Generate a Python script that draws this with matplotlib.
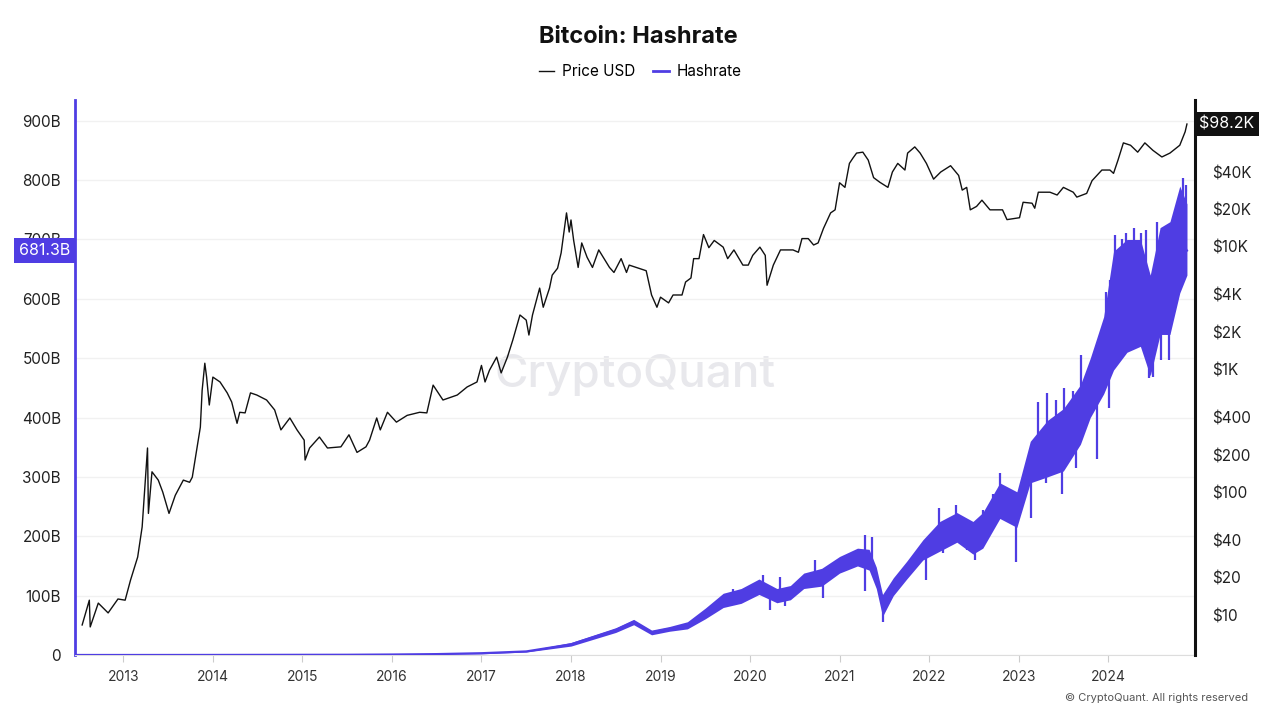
import numpy as np
import matplotlib.pyplot as plt
from matplotlib.ticker import FixedLocator, NullLocator
import matplotlib.transforms as mtransforms

plt.rcParams['font.family'] = ['Inter', 'DejaVu Sans']

# Price (USD), decimal year
price_year = [2012.54, 2012.62, 2012.63, 2012.72, 2012.83, 2012.94, 2013.02, 2013.08, 2013.16, 2013.21,
              2013.27, 2013.28, 2013.32, 2013.39, 2013.44, 2013.51, 2013.58, 2013.67, 2013.74, 2013.77,
              2013.81, 2013.86, 2013.88, 2013.91, 2013.93, 2013.96, 2014.0, 2014.08, 2014.16, 2014.21,
              2014.27, 2014.30, 2014.36, 2014.42, 2014.49, 2014.60, 2014.69, 2014.76, 2014.86, 2014.94,
              2015.02, 2015.03, 2015.08, 2015.19, 2015.28, 2015.43, 2015.52, 2015.61, 2015.71, 2015.75,
              2015.83, 2015.87, 2015.95, 2016.05, 2016.17, 2016.31, 2016.39, 2016.46, 2016.57, 2016.73,
              2016.84, 2016.95, 2017.0, 2017.04, 2017.09, 2017.17, 2017.22, 2017.29, 2017.35, 2017.43,
              2017.50, 2017.53, 2017.57, 2017.65, 2017.69, 2017.76, 2017.79, 2017.85, 2017.89, 2017.95,
              2017.98, 2018.0, 2018.03, 2018.08, 2018.12, 2018.18, 2018.24, 2018.31, 2018.43, 2018.48,
              2018.56, 2018.62, 2018.65, 2018.84, 2018.90, 2018.96, 2019.0, 2019.09, 2019.14, 2019.24,
              2019.28, 2019.34, 2019.37, 2019.43, 2019.48, 2019.54, 2019.60, 2019.70, 2019.75, 2019.82,
              2019.92, 2019.98, 2020.03, 2020.11, 2020.17, 2020.19, 2020.26, 2020.34, 2020.48, 2020.54,
              2020.58, 2020.65, 2020.71, 2020.76, 2020.82, 2020.90, 2020.95, 2021.0, 2021.06, 2021.11,
              2021.15, 2021.19, 2021.26, 2021.32, 2021.38, 2021.45, 2021.54, 2021.59, 2021.65, 2021.73,
              2021.76, 2021.84, 2021.90, 2021.97, 2022.05, 2022.13, 2022.24, 2022.33, 2022.37, 2022.42,
              2022.46, 2022.53, 2022.59, 2022.68, 2022.82, 2022.87, 2023.01, 2023.05, 2023.15, 2023.18,
              2023.22, 2023.35, 2023.43, 2023.50, 2023.61, 2023.65, 2023.76, 2023.82, 2023.93, 2024.02,
              2024.06, 2024.11, 2024.17, 2024.25, 2024.33, 2024.41, 2024.50, 2024.60, 2024.69, 2024.80,
              2024.86, 2024.88]
price_usd = [8.3, 13.2, 8.0, 12.5, 10.4, 13.5, 13.2, 19.2, 29.6, 52,
             228, 67, 146, 125, 100, 67, 94, 125, 120, 132,
             200, 337, 670, 1115, 860, 510, 860, 785, 640, 540,
             362, 445, 440, 640, 615, 560, 465, 320, 400, 320,
             264, 182, 228, 280, 228, 233, 292, 210, 233, 264,
             400, 320, 445, 370, 420, 445, 440, 740, 560, 615,
             715, 785, 1070, 785, 980, 1250, 930, 1250, 1720, 2750,
             2500, 1890, 2750, 4550, 3180, 4550, 5800, 6600, 8800, 18600,
             13000, 16300, 11100, 6700, 10600, 8100, 6700, 9300, 6700, 6100,
             7900, 6100, 7000, 6300, 4000, 3180, 3840, 3450, 4000, 4000,
             5100, 5500, 7900, 7900, 12400, 9700, 11100, 9800, 7900, 9300,
             7000, 7000, 8400, 9800, 8400, 4800, 7000, 9300, 9300, 8900,
             11500, 11500, 10200, 10600, 13900, 18600, 19700, 32700, 30000, 47000,
             52000, 57000, 58000, 50000, 36000, 33000, 30000, 40000, 47000, 41500,
             57000, 64000, 57000, 47000, 35000, 40000, 45000, 37500, 28500, 30000,
             19700, 21000, 23600, 19700, 19700, 16400, 17000, 22700, 22300, 20300,
             27400, 27400, 26000, 30000, 27400, 25000, 26800, 34000, 41500, 41500,
             39000, 50000, 69000, 66000, 58000, 69000, 60000, 53000, 57000, 66000,
             85000, 98200]

# Hashrate (B): dense core of the daily series
hash_year = [2012.46, 2013.0, 2013.5, 2014.0, 2014.5, 2015.0, 2015.5, 2016.0, 2016.5, 2017.0,
             2017.5, 2018.0, 2018.5, 2018.7, 2018.9, 2019.1, 2019.3, 2019.5, 2019.7, 2019.9,
             2020.1, 2020.3, 2020.45, 2020.6, 2020.8, 2021.0, 2021.2, 2021.33, 2021.41, 2021.48,
             2021.6, 2021.75, 2021.93, 2022.12, 2022.31, 2022.49, 2022.6, 2022.79, 2022.98, 2023.13,
             2023.32, 2023.5, 2023.69, 2023.8, 2023.95, 2024.06, 2024.21, 2024.36, 2024.47, 2024.58,
             2024.69, 2024.8, 2024.88]
hash_mid = [0.01, 0.02, 0.05, 0.1, 0.2, 0.3, 0.4, 0.8, 1.5, 3,
            6, 18, 42, 56, 38, 44, 50, 70, 92, 100,
            115, 100, 105, 125, 132, 152, 165, 160, 130, 85,
            115, 143, 177, 199, 216, 199, 206, 266, 249, 329,
            351, 374, 418, 469, 509, 576, 603, 598, 543, 620,
            649, 700, 681.3]
hash_lo = [0.01, 0.02, 0.05, 0.1, 0.2, 0.3, 0.4, 0.7, 1.3, 2,
           5, 15, 38, 51, 34, 40, 44, 61, 80, 87,
           102, 88, 93, 112, 116, 138, 150, 143, 112, 65,
           100, 128, 160, 175, 190, 170, 180, 230, 215, 290,
           300, 310, 355, 400, 440, 480, 510, 520, 470, 540,
           540, 610, 640]
hash_hi = [0.01, 0.02, 0.05, 0.1, 0.2, 0.3, 0.4, 0.9, 1.7, 4,
           7, 21, 46, 60, 42, 48, 56, 79, 104, 112,
           128, 112, 117, 138, 146, 166, 180, 178, 148, 102,
           130, 158, 194, 225, 240, 225, 240, 290, 275, 360,
           395, 415, 455, 500, 570, 680, 700, 700, 640, 720,
           730, 790, 760]

# Hashrate spikes that stick out of the core (B)
spike_up_year = [2019.81, 2020.15, 2020.33, 2020.72, 2021.28, 2021.36, 2021.99, 2022.11, 2022.30, 2022.60,
                 2022.71, 2022.79, 2023.22, 2023.32, 2023.42, 2023.51, 2023.61, 2023.70, 2023.84, 2023.98,
                 2024.02, 2024.08, 2024.15, 2024.20, 2024.29, 2024.37, 2024.42, 2024.55, 2024.65, 2024.78,
                 2024.84, 2024.87]
spike_up_val = [112, 135, 132, 160, 202, 199, 180, 247, 253, 244,
                272, 306, 427, 441, 430, 449, 444, 506, 486, 612,
                632, 708, 700, 711, 719, 711, 716, 730, 722, 733,
                804, 792]
spike_dn_year = [2020.22, 2020.39, 2020.82, 2021.28, 2021.48, 2021.97, 2022.15, 2022.42, 2022.51, 2022.97,
                 2023.14, 2023.31, 2023.48, 2023.64, 2023.88, 2024.01, 2024.35, 2024.46, 2024.50, 2024.59,
                 2024.68]
spike_dn_val = [76, 82, 96, 107, 56, 126, 171, 177, 160, 157,
                230, 289, 272, 315, 331, 416, 542, 466, 469, 497,
                497]

years = list(range(2013, 2025))
left_ticks = [0, 100, 200, 300, 400, 500, 600, 700, 800, 900]
right_ticks = [10, 20, 40, 100, 200, 400, 1000, 2000, 4000, 10000, 20000, 40000]
right_labels = ['$10', '$20', '$40', '$100', '$200', '$400', '$1K', '$2K', '$4K', '$10K', '$20K', '$40K']

purple = '#4f3de3'
text_col = '#222222'

fig = plt.figure(figsize=(12.8, 7.2), dpi=100)
ax = fig.add_axes([75 / 1280, 1 - 655 / 720, 1120 / 1280, 555 / 720])
ax2 = ax.twinx()

# hashrate
ax.fill_between(hash_year, hash_lo, hash_hi, color=purple, linewidth=0, zorder=2)
ax.plot(hash_year, hash_mid, color=purple, linewidth=1.6, zorder=3)
up_base = np.interp(spike_up_year, hash_year, hash_mid)
dn_base = np.interp(spike_dn_year, hash_year, hash_mid)
ax.vlines(spike_up_year, up_base, spike_up_val, color=purple, linewidth=1.6, zorder=3)
ax.vlines(spike_dn_year, spike_dn_val, dn_base, color=purple, linewidth=1.6, zorder=3)
ax.set_ylim(0, 935)
ax.set_xlim(2012.46, 2024.97)
ax.yaxis.set_major_locator(FixedLocator(left_ticks))
ax.set_yticklabels(['0'] + [f'{v}B' for v in left_ticks[1:]])
ax.set_xticks(years)
ax.set_xticklabels([str(y) for y in years])
ax.tick_params(axis='y', length=0, pad=10, labelsize=11, labelcolor=text_col)
ax.tick_params(axis='x', length=5, color='#cccccc', pad=6, labelsize=10, labelcolor='#333333')
ax.grid(axis='y', color='#f1f1f1', linewidth=1)
ax.set_axisbelow(True)
ax.spines['top'].set_visible(False)
ax.spines['right'].set_visible(False)
ax.spines['bottom'].set_color('#dddddd')
ax.spines['left'].set_color(purple)
ax.spines['left'].set_linewidth(2)

# price on log scale
ax2.plot(price_year, price_usd, color='#111111', linewidth=1.0)
ax2.set_yscale('log')
ax2.set_ylim(4.73, 154000)
ax2.yaxis.set_major_locator(FixedLocator(right_ticks))
ax2.yaxis.set_minor_locator(NullLocator())
ax2.set_yticklabels(right_labels)
ax2.tick_params(axis='y', length=0, pad=12, labelsize=11, labelcolor=text_col)
for s in ['top', 'left', 'bottom']:
    ax2.spines[s].set_visible(False)
ax2.spines['right'].set_color('#111111')
ax2.spines['right'].set_linewidth(2.2)

# watermark
ax.text(0.5, 0.505, 'CryptoQuant', transform=ax.transAxes, ha='center', va='center',
        fontsize=33, color='#e8e8ec', fontweight='medium', zorder=0)

# last-value tags
tr_left = mtransforms.blended_transform_factory(ax.transAxes, ax.transData)
ax.text(-0.004, hash_mid[-1], f'{hash_mid[-1]}B', transform=tr_left, ha='right', va='center',
        fontsize=11.5, color='white', zorder=10, clip_on=False,
        bbox=dict(boxstyle='square,pad=0.3', facecolor=purple, edgecolor='none'))
tr_right = mtransforms.blended_transform_factory(ax2.transAxes, ax2.transData)
ax2.text(1.004, price_usd[-1], '$98.2K', transform=tr_right, ha='left', va='center',
         fontsize=11.5, color='white', zorder=10, clip_on=False,
         bbox=dict(boxstyle='square,pad=0.3', facecolor='#111111', edgecolor='none'))

# title and legend
fig.text(0.499, 1 - 37 / 720, 'Bitcoin: Hashrate', ha='center', va='center',
         fontsize=17, fontweight='bold', color='#111111')
h1, = ax.plot([], [], color='#111111', linewidth=1)
h2, = ax.plot([], [], color=purple, linewidth=2)
fig.legend([h1, h2], ['Price USD', 'Hashrate'], loc='center', bbox_to_anchor=(0.5, 1 - 72 / 720),
           ncol=2, frameon=False, fontsize=11, handlelength=1.0, handletextpad=0.5,
           columnspacing=1.2)

fig.text(1248 / 1280, 1 - 698 / 720, '\u00a9 CryptoQuant. All rights reserved', ha='right',
         va='center', fontsize=8, color='#555555')

fig.savefig('out.png', dpi=100)
